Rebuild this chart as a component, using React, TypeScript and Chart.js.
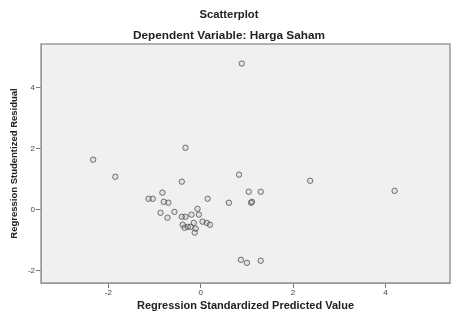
import React, { useEffect, useRef } from "react";
import { Chart, registerables } from "chart.js";

Chart.register(...registerables);

const titleText = "Scatterplot";
const subtitleText = "Dependent Variable: Harga Saham";
const xAxisTitle = "Regression Standardized Predicted Value";
const yAxisTitle = "Regression Studentized Residual";

const xTickValues = [-2, 0, 2, 4];
const yTickValues = [-2, 0, 2, 4];

const predictedValues = [
  0.89, -0.33, -2.33, -1.85, -0.41, 0.83, 2.37, 1.04, 1.3, 4.2,
  1.09, 1.11, 0.61, 0.15, -0.83, -1.13, -1.04, -0.8, -0.7, -0.87,
  -0.72, -0.57, -0.41, -0.33, -0.07, -0.04, -0.2, -0.15, -0.28, -0.35,
  -0.22, 0.04, 0.13, 0.2, -0.13, -0.39, 0.87, 1.0, 1.3, -0.11,
];
const studentizedResiduals = [
  4.79, 2.03, 1.64, 1.08, 0.92, 1.15, 0.95, 0.59, 0.59, 0.62,
  0.23, 0.26, 0.23, 0.36, 0.56, 0.36, 0.36, 0.26, 0.23, -0.1,
  -0.26, -0.07, -0.23, -0.23, 0.03, -0.16, -0.16, -0.43, -0.56, -0.59,
  -0.56, -0.39, -0.43, -0.49, -0.75, -0.49, -1.64, -1.74, -1.67, -0.62,
];

const FONT = "'Liberation Sans', Arial, sans-serif";

const framePlugin = {
  id: "spssFrame",
  beforeDraw(chart: any) {
    const { ctx, chartArea } = chart;
    ctx.save();
    ctx.fillStyle = "#f0f0f0";
    ctx.fillRect(chartArea.left, chartArea.top, chartArea.right - chartArea.left, chartArea.bottom - chartArea.top);
    ctx.restore();
  },
  afterDraw(chart: any) {
    const { ctx, chartArea } = chart;
    ctx.save();
    ctx.strokeStyle = "#9a9a9a";
    ctx.lineWidth = 1.5;
    ctx.strokeRect(chartArea.left, chartArea.top, chartArea.right - chartArea.left, chartArea.bottom - chartArea.top);
    ctx.fillStyle = "#222";
    ctx.textAlign = "center";
    ctx.textBaseline = "middle";
    ctx.font = `bold 11.3px ${FONT}`;
    ctx.fillText(titleText, 229, 15);
    ctx.font = `bold 11.8px ${FONT}`;
    ctx.fillText(subtitleText, 229, 36);
    ctx.restore();
  },
};

export default function App() {
  const canvasRef = useRef<HTMLCanvasElement | null>(null);

  useEffect(() => {
    if (!canvasRef.current) return;
    const points = predictedValues.map((x, i) => ({ x, y: studentizedResiduals[i] }));
    const chart = new Chart(canvasRef.current, {
      type: "scatter",
      data: {
        datasets: [
          {
            data: points,
            pointStyle: "circle",
            pointRadius: 2.7,
            pointBorderWidth: 1,
            pointBorderColor: "rgba(70,70,70,0.75)",
            pointBackgroundColor: "rgba(150,150,150,0.15)",
          },
        ],
      },
      options: {
        responsive: false,
        animation: false,
        devicePixelRatio: 1,
        layout: { autoPadding: false, padding: { top: 44, right: 1, bottom: 0, left: 0 } },
        plugins: {
          legend: { display: false },
          tooltip: { enabled: false },
          title: { display: false },
        },
        scales: {
          x: {
            type: "linear",
            min: -3.46,
            max: 5.4,
            afterBuildTicks: (s: any) => {
              s.ticks = xTickValues.map((v) => ({ value: v }));
            },
            afterFit: (s: any) => {
              s.height = 30;
            },
            grid: { display: true, drawOnChartArea: false, drawTicks: true, tickLength: 5, color: "#777" },
            border: { display: true, color: "#9a9a9a" },
            ticks: { font: { size: 8, family: FONT }, color: "#444", padding: 0, maxRotation: 0 },
            title: {
              display: true,
              text: xAxisTitle,
              color: "#222",
              font: { size: 11, weight: "bold", family: FONT },
              padding: { top: 1.5, bottom: 0 },
            },
          },
          y: {
            type: "linear",
            min: -2.4,
            max: 5.43,
            afterBuildTicks: (s: any) => {
              s.ticks = yTickValues.map((v) => ({ value: v }));
            },
            afterFit: (s: any) => {
              s.width = 41;
            },
            grid: { display: true, drawOnChartArea: false, drawTicks: true, tickLength: 5, color: "#777" },
            border: { display: true, color: "#9a9a9a" },
            ticks: { font: { size: 8, family: FONT }, color: "#444", padding: 1 },
            title: {
              display: true,
              text: yAxisTitle,
              color: "#222",
              font: { size: 9.5, weight: "bold", family: FONT },
              padding: { top: 9, bottom: 0 },
            },
          },
        },
      },
      plugins: [framePlugin],
    });
    return () => chart.destroy();
  }, []);

  return (
    <div style={{ position: "absolute", left: 0, top: 0, width: 451, height: 313, background: "#fff" }}>
      <canvas ref={canvasRef} width={451} height={313} style={{ display: "block" }} />
    </div>
  );
}
